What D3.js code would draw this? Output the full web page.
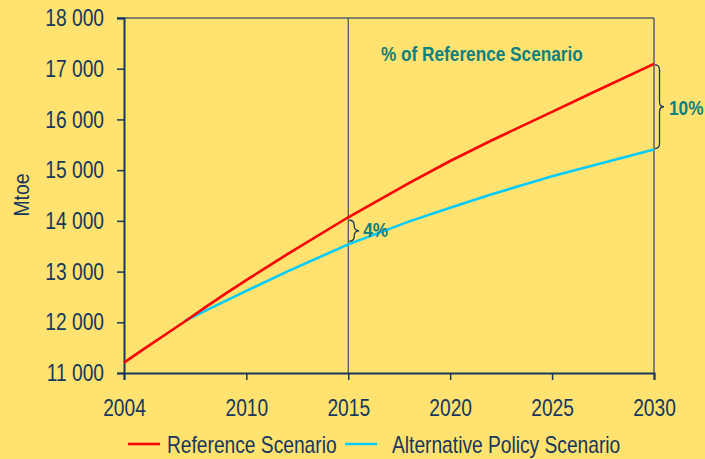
<!DOCTYPE html>
<html>
<head>
  <meta charset="utf-8">
  <title>World primary energy demand</title>
  <style>
    html, body { margin: 0; padding: 0; background: #FFE26F; }
    svg { display: block; }
  </style>
</head>
<body>
  <script src="https://d3js.org/d3.v7.min.js"></script>
  <script>
  // values (Mtoe)
  var refYears = [2004, 2005, 2006, 2007, 2008, 2009, 2010, 2012, 2015, 2018, 2020, 2022, 2025, 2027, 2030];
  var refValues = [11204, 11480, 11750, 12020, 12300, 12570, 12830, 13340, 14071, 14750, 15180, 15580, 16150, 16530, 17095];
  var altYears = [2007, 2008, 2010, 2012, 2015, 2018, 2020, 2022, 2025, 2027, 2030];
  var altValues = [12030, 12230, 12620, 13000, 13537, 13990, 14260, 14520, 14880, 15090, 15405];
  var xTicks = [2004, 2010, 2015, 2020, 2025, 2030];
  var yTicks = [11000, 12000, 13000, 14000, 15000, 16000, 17000, 18000];
  var seriesNames = ["Reference Scenario", "Alternative Policy Scenario"];
  var seriesColors = ["#FF0000", "#00CCFF"];

  var W = 705, H = 459;
  var margin = {top: 18, right: 51, bottom: 86, left: 124},
      width = W - margin.left - margin.right,
      height = H - margin.top - margin.bottom;

  var navy = "#17375E", teal = "#0E8080", font = '"Liberation Sans", Arial, sans-serif';
  var squeeze = 0.8;

  // the original type is condensed: squeeze texts horizontally around their anchor
  function narrow(sel, k) {
    sel.each(function(){
      var t = d3.select(this),
          tx = +t.attr("x") || 0, ty = +t.attr("y") || 0;
      t.attr("x", 0).attr("y", 0)
       .attr("transform", "translate(" + tx + "," + ty + ") scale(" + (k || squeeze) + ",1)");
    });
  }

  var svg = d3.select("body").append("svg")
      .attr("width", W).attr("height", H)
      .style("background", "#FFE26F");

  var chart = svg.append("g")
      .attr("transform", "translate(" + margin.left + "," + margin.top + ")");

  var x = d3.scaleLinear().domain([2004, 2030]).range([0, width]);
  var y = d3.scaleLinear().domain([11000, 18000]).range([height, 0]);

  var fmt = function(d){ return d3.format(",")(d).replace(",", " "); };

  // frame top/right
  chart.append("line").attr("x1", -7).attr("x2", width).attr("y1", 0).attr("y2", 0)
      .attr("stroke", "#55606A").attr("stroke-width", 1.5);
  chart.append("line").attr("x1", width).attr("x2", width).attr("y1", 0).attr("y2", height)
      .attr("stroke", "#55606A").attr("stroke-width", 1.5);

  // 2015 marker
  chart.append("line").attr("x1", x(2015)).attr("x2", x(2015)).attr("y1", 0).attr("y2", height)
      .attr("stroke", navy).attr("stroke-width", 1);

  var yAxis = chart.append("g")
      .call(d3.axisLeft(y).tickValues(yTicks).tickFormat(fmt).tickSize(7).tickPadding(13));
  var xAxis = chart.append("g")
      .attr("transform", "translate(0," + height + ")")
      .call(d3.axisBottom(x).tickValues(xTicks).tickFormat(d3.format("d")).tickSize(7).tickPadding(19));

  [yAxis, xAxis].forEach(function(a){
    a.select(".domain").attr("stroke", navy).attr("stroke-width", 2);
    a.selectAll(".tick line").attr("stroke", navy).attr("stroke-width", 1.5);
    a.selectAll(".tick text").attr("fill", navy).attr("font-size", "24px").attr("font-family", font)
      .call(narrow);
  });

  svg.append("text")
      .attr("transform", "translate(29,195) rotate(-90) scale(0.88,1)")
      .attr("text-anchor", "middle")
      .attr("font-family", font).attr("font-size", "22px").attr("fill", navy)
      .text("Mtoe");

  var line = d3.line().x(function(d){ return x(d[0]); }).y(function(d){ return y(d[1]); });
  var refData = d3.zip(refYears, refValues);
  var altData = d3.zip(altYears, altValues);

  chart.append("path").datum(altData).attr("d", line)
      .attr("fill", "none").attr("stroke", seriesColors[1]).attr("stroke-width", 2.6);
  chart.append("path").datum(refData).attr("d", line)
      .attr("fill", "none").attr("stroke", seriesColors[0]).attr("stroke-width", 2.6);

  // braces
  function brace(xp, y0, y1, w) {
    var m = (y0 + y1) / 2, r = Math.min(5, (y1 - y0) / 4), h = xp + w / 2;
    return "M" + xp + "," + y0 +
      " Q" + h + "," + y0 + " " + h + "," + (y0 + r) +
      " L" + h + "," + (m - r) +
      " Q" + h + "," + m + " " + (xp + w) + "," + m +
      " Q" + h + "," + m + " " + h + "," + (m + r) +
      " L" + h + "," + (y1 - r) +
      " Q" + h + "," + y1 + " " + xp + "," + y1;
  }
  var r15 = refValues[refYears.indexOf(2015)], a15 = altValues[altYears.indexOf(2015)];
  var r30 = refValues[refYears.indexOf(2030)], a30 = altValues[altYears.indexOf(2030)];

  chart.append("path").attr("d", brace(x(2015) + 1, y(r15) + 3, y(a15) - 3, 10))
      .attr("fill", "none").attr("stroke", navy).attr("stroke-width", 1.3);
  chart.append("path").attr("d", brace(x(2030) + 1, y(r30) + 1, y(a30) - 1, 9))
      .attr("fill", "none").attr("stroke", navy).attr("stroke-width", 1.3);

  var notes = chart.append("g")
      .attr("font-family", font).attr("font-weight", "bold").attr("font-size", "21px").attr("fill", teal);
  notes.append("text").attr("x", x(2015) + 15).attr("y", (y(r15) + y(a15)) / 2 + 6)
      .text(Math.round((r15 - a15) / r15 * 100) + "%");
  notes.append("text").attr("x", x(2030) + 15).attr("y", (y(r30) + y(a30)) / 2 + 8)
      .text(Math.round((r30 - a30) / r30 * 100) + "%");
  notes.append("text").attr("x", 257).attr("y", 43)
      .text("% of Reference Scenario");
  notes.selectAll("text").call(narrow, 0.82);

  // legend
  var legX = [128, 345], legTextX = [167, 392];
  var leg = svg.append("g");
  seriesNames.forEach(function(n, i){
    leg.append("line").attr("x1", legX[i]).attr("x2", legX[i] + 32).attr("y1", 444).attr("y2", 444)
        .attr("stroke", seriesColors[i]).attr("stroke-width", 2.5);
    leg.append("text").attr("x", legTextX[i]).attr("y", 453)
        .attr("font-family", font).attr("font-size", "24px").attr("fill", navy).text(n)
        .call(narrow);
  });
  </script>
</body>
</html>
